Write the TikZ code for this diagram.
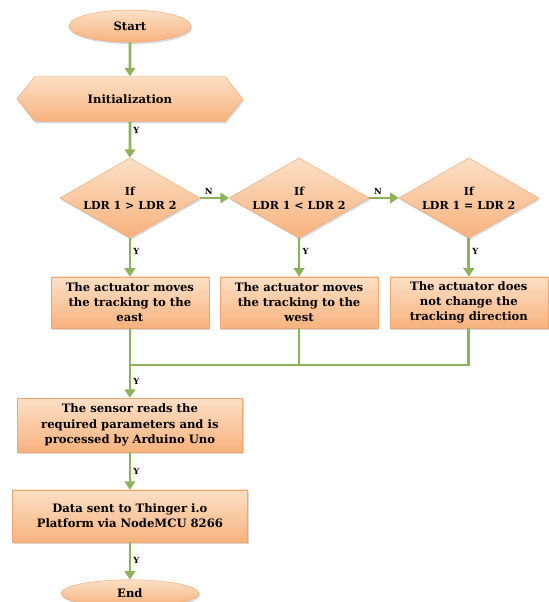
\documentclass[tikz,border=0pt]{standalone}
\usepackage{fontspec}
\setmainfont{DejaVu Serif}
\usetikzlibrary{shapes.geometric,shapes.symbols,arrows.meta,shadows}
\definecolor{boxedge}{HTML}{F2A66E}
\definecolor{boxtop}{HTML}{FCE0C6}
\definecolor{boxbottom}{HTML}{F8B27E}
\definecolor{flowgreen}{HTML}{8CB25A}

\begin{document}
\begin{tikzpicture}[base_node/.style={draw=boxedge, thin, top color=boxtop, bottom color=boxbottom, drop shadow={opacity=0.3, shadow xshift=1.2pt, shadow yshift=-1.8pt}, font=\bfseries\fontsize{11}{14.5}\selectfont, align=center, inner sep=0pt},
    term_node/.style={base_node, ellipse, minimum width=4.07cm, minimum height=1.07cm},
    prep_node/.style={base_node, signal, signal to=west and east, signal pointer angle=103, minimum width=7.53cm, minimum height=1.5cm},
    dec_node/.style={base_node, diamond, shape aspect=1.75, minimum width=4.67cm, minimum height=2.67cm, font=\bfseries\fontsize{10.5}{13}\selectfont},
    proc_node/.style={base_node, rectangle, minimum width=5.27cm, minimum height=1.7cm},
    flow/.style={draw=flowgreen, line width=2.6pt, -{Triangle[width=10pt,length=8pt]}},
    flow_line/.style={draw=flowgreen, line width=2.6pt},
    lbl/.style={font=\bfseries\fontsize{8}{8}\selectfont, inner sep=2pt}]

    \useasboundingbox (0,0) rectangle (18.3,-20.07);

	\node[term_node] (1)   at (4.33,-0.87) {Start};
    \node[prep_node] (2)   at (4.33,-3.3) {Initialization};
	\node[dec_node] (3)   at (4.33,-6.6) {If\\LDR 1 > LDR 2};
    \node[dec_node] (4)   at (9.97,-6.6) {If\\LDR 1 < LDR 2};
    \node[dec_node] (5)   at (15.63,-6.6) {If\\LDR 1 = LDR 2};
    \node[proc_node] (6)   at (4.33,-10.08) {The actuator moves\\the tracking to the\\east};
    \node[proc_node] (7)   at (9.97,-10.08) {The actuator moves\\the tracking to the\\west};
    \node[proc_node] (8)   at (15.63,-10.08) {The actuator does\\not change the\\tracking direction};
    \coordinate (j) at (4.33,-12.17);
    \node[proc_node, minimum width=7.5cm, minimum height=1.8cm] (9)   at (4.33,-14.17) {The sensor reads the\\required parameters and is\\processed by Arduino Uno};
    \node[proc_node, minimum width=7.83cm, minimum height=1.73cm] (10)   at (4.33,-17.2) {Data sent to Thinger i.o\\Platform via NodeMCU 8266};
    \node[term_node, minimum width=4.6cm, minimum height=0.9cm] (11)   at (4.33,-19.78) {End};

    \draw[flow] (1) -- (2);
    \draw[flow] (2) -- node[lbl, right, pos=0.25] {Y} (3);
    \draw[flow] (3) -- node[lbl, above, pos=0.3] {N} (4);
    \draw[flow] (4) -- node[lbl, above, pos=0.3] {N} (5);
    \draw[flow] (3) -- node[lbl, right, pos=0.35] {Y} (6);
    \draw[flow] (4) -- node[lbl, right, pos=0.35] {Y} (7);
    \draw[flow] (5) -- node[lbl, right, pos=0.35] {Y} (8);
    \draw[flow_line] (6) -- (j);
    \draw[flow_line] (7) |- (j);
    \draw[flow_line] (8) |- (j);
    \draw[flow] (j) -- node[lbl, right] {Y} (9);
    \draw[flow] (9) -- node[lbl, right] {Y} (10);
    \draw[flow] (10) -- node[lbl, right] {Y} (11);

\end{tikzpicture}
\end{document}
